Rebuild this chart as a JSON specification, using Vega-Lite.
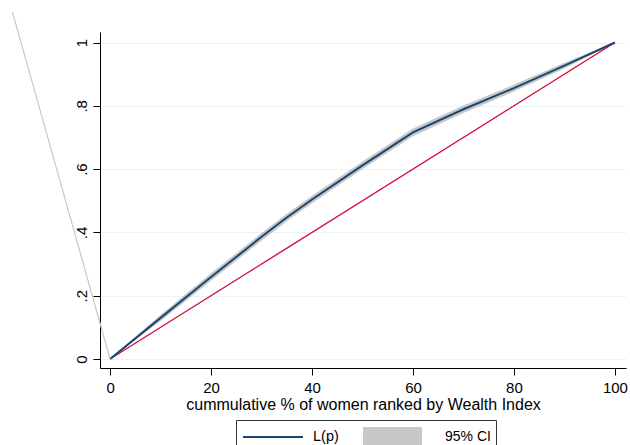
{
  "$schema": "https://vega.github.io/schema/vega-lite/v6.json",
  "width": 526,
  "height": 336,
  "autosize": {"type": "none"},
  "padding": {"left": 100, "top": 32, "right": 4, "bottom": 77},
  "background": "white",
  "config": {
    "view": {"stroke": null},
    "font": "Liberation Sans",
    "axis": {
      "domainColor": "black",
      "tickColor": "black",
      "labelColor": "black",
      "titleColor": "black",
      "labelFont": "Liberation Sans",
      "titleFont": "Liberation Sans",
      "titleFontWeight": "normal",
      "tickSize": 7,
      "labelFontSize": 15,
      "domainWidth": 1,
      "tickWidth": 1
    },
    "legend": {
      "labelFont": "Liberation Sans",
      "labelFontSize": 14.5,
      "labelColor": "black",
      "labelLimit": 400
    }
  },
  "datasets": {
    "curve": [
      {"p": 0, "lp": 0, "lo": 0, "hi": 0},
      {"p": 10, "lp": 0.13, "lo": 0.12, "hi": 0.14},
      {"p": 20, "lp": 0.259, "lo": 0.247, "hi": 0.271},
      {"p": 30, "lp": 0.386, "lo": 0.374, "hi": 0.398},
      {"p": 35, "lp": 0.447, "lo": 0.435, "hi": 0.459},
      {"p": 40, "lp": 0.504, "lo": 0.492, "hi": 0.516},
      {"p": 50, "lp": 0.612, "lo": 0.6, "hi": 0.624},
      {"p": 60, "lp": 0.716, "lo": 0.704, "hi": 0.728},
      {"p": 70, "lp": 0.789, "lo": 0.777, "hi": 0.801},
      {"p": 80, "lp": 0.856, "lo": 0.845, "hi": 0.867},
      {"p": 90, "lp": 0.927, "lo": 0.918, "hi": 0.936},
      {"p": 100, "lp": 1, "lo": 1, "hi": 1}
    ],
    "equality": [
      {"p": 0, "v": 0},
      {"p": 100, "v": 1}
    ],
    "stray": [
      {"p": -19.35, "v": 1.097},
      {"p": 0, "v": 0}
    ]
  },
  "layer": [
    {
      "data": {"name": "curve"},
      "mark": {"type": "area", "opacity": 1},
      "encoding": {
        "x": {
          "field": "p",
          "type": "quantitative",
          "scale": {"domain": [-2, 102.2], "nice": false, "zero": false},
          "axis": {
            "values": [0, 20, 40, 60, 80, 100],
            "format": "d",
            "title": "cummulative % of women ranked by Wealth Index",
            "titleFontSize": 16,
            "titlePadding": 1,
            "labelPadding": 5,
            "grid": false,
            "labelFlush": false,
            "labelOverlap": false
          }
        },
        "y": {
          "field": "lo",
          "type": "quantitative",
          "scale": {"domain": [-0.0284, 1.0332], "nice": false, "zero": false},
          "axis": {
            "values": [0, 0.2, 0.4, 0.6, 0.8, 1],
            "labelExpr": "datum.value == 0 ? '0' : datum.value == 1 ? '1' : replace(format(datum.value, '.1f'), '0.', '.')",
            "labelAngle": -90,
            "labelPadding": 4,
            "title": null,
            "grid": true,
            "gridColor": "#eaf2f3",
            "gridWidth": 1,
            "labelOverlap": false
          }
        },
        "y2": {"field": "hi"},
        "fill": {
          "datum": "95% CI",
          "scale": {"domain": ["95% CI"], "range": ["#c8c8c8"]},
          "legend": {
            "orient": "none",
            "legendX": 262,
            "legendY": 394,
            "direction": "horizontal",
            "title": null,
            "symbolType": "M-1,-1H4.9V1H-1Z",
            "symbolSize": 400,
            "symbolStrokeColor": "transparent",
            "symbolOpacity": 1,
            "labelOffset": 61,
            "labelFontSize": 14,
            "padding": 0,
            "fillColor": "transparent"
          }
        }
      }
    },
    {
      "data": {"name": "equality"},
      "mark": {"type": "line", "color": "#d0103a", "strokeWidth": 1.4},
      "encoding": {
        "x": {"field": "p", "type": "quantitative"},
        "y": {"field": "v", "type": "quantitative"}
      }
    },
    {
      "data": {"name": "curve"},
      "mark": {"type": "line", "strokeWidth": 2},
      "encoding": {
        "x": {"field": "p", "type": "quantitative"},
        "y": {"field": "lp", "type": "quantitative"},
        "stroke": {
          "datum": "L(p)",
          "scale": {"domain": ["L(p)"], "range": ["#1a476f"]},
          "legend": {
            "orient": "none",
            "legendX": 136,
            "legendY": 388,
            "direction": "horizontal",
            "title": null,
            "symbolType": "M-1,0H5M23.3,0",
            "symbolSize": 400,
            "symbolStrokeWidth": 2,
            "symbolFillColor": "transparent",
            "symbolOpacity": 1,
            "labelOffset": 49,
            "padding": 6,
            "strokeColor": "#333333",
            "fillColor": "transparent"
          }
        }
      }
    },
    {
      "data": {"name": "stray"},
      "mark": {"type": "line", "color": "#c8c8c8", "strokeWidth": 1.2, "clip": false},
      "encoding": {
        "x": {"field": "p", "type": "quantitative"},
        "y": {"field": "v", "type": "quantitative"}
      }
    }
  ]
}
